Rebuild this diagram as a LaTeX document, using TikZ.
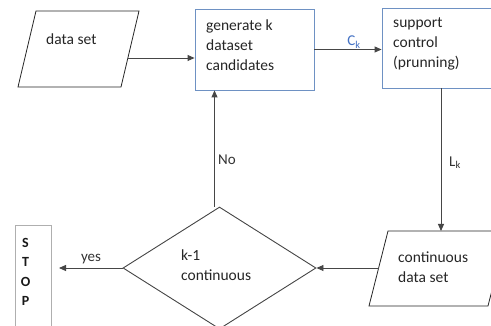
\documentclass[tikz,border=0pt]{standalone}
\usepackage{fontspec}
\setmainfont{Carlito}
\usetikzlibrary{arrows.meta,shapes.geometric}
\definecolor{boxblue}{RGB}{110,145,195}
\definecolor{cblue}{RGB}{68,114,196}
\definecolor{lgray}{RGB}{70,70,70}
\definecolor{stopgray}{RGB}{175,175,175}
\begin{document}
\begin{tikzpicture}[x=1pt,y=-1pt,
  txt/.style={font=\fontsize{15.5}{20}\selectfont, align=left, inner sep=0pt, anchor=west, text=black!85},
  lab/.style={font=\fontsize{15}{18}\selectfont, inner sep=0pt, text=black!80},
  conn/.style={draw=lgray, line width=0.9pt, -{Triangle[length=7pt,width=6pt]}},
  pg/.style={draw=black!85, line width=0.8pt},
  bluebox/.style={draw=boxblue, line width=0.9pt, rectangle, inner sep=0pt}]
\clip (0,0) rectangle (491,326);
\fill[white] (0,0) rectangle (491,326);
% data set
\draw[pg] (36,11) -- (139,11) -- (121,87) -- (18,87) -- cycle;
\coordinate (dsout) at (128,58);
\node[txt] (ds) at (46,39) {data set};
% generate
\node[bluebox, minimum width=119, minimum height=81] (gen) at (254.5,49.5) {};
\node[txt] (gent) at (206,45) {generate k\\dataset\\candidates};
\draw[conn] (dsout) -- (gen.west |- dsout);
% support
\node[bluebox, minimum width=118, minimum height=80] (sup) at (441,48) {};
\node[txt] (supt) at (393,44) {support\\control\\(prunning)};
\draw[conn] (gen.east) -- (gen.east -| sup.west);
\node[lab, text=cblue] (ck) at (354,42) {C\textsubscript{k}};
% continuous data set
\draw[pg] (388,231) -- (507,231) -- (488,306) -- (369,306) -- cycle;
\coordinate (cdsin) at (441,231);
\coordinate (cdsout) at (378.5,268);
\node[txt] (cdst) at (398,267) {continuous\\data set};
\draw[conn] (sup.south) -- (cdsin);
\node[lab] (lk) at (455,163) {L\textsubscript{k}};
% decision
\node[diamond, draw=lgray, line width=0.9pt, minimum width=193, minimum height=122, inner sep=0pt] (dec) at (219.5,268) {};
\node[txt] (dect) at (181,265) {k-1\\continuous};
\draw[conn] (cdsout) -- (dec.east);
\draw[conn] ([xshift=-5]dec.north) -- ([xshift=-5]dec.north |- gen.south);
\node[lab] (no) at (227,160) {No};
% stop
\coordinate (stopin) at (59,268);
\draw[conn] (dec.west) -- (stopin);
\node[lab] (yes) at (91,259) {yes};
\node[draw=stopgray, line width=0.8pt, minimum width=36, minimum height=120, anchor=north west, inner sep=0pt] (stop) at (15,225) {};
\node[font=\fontsize{14}{19.4}\selectfont\bfseries, align=center, inner sep=0pt, text=black!90] (stopt) at (25.5,272) {S\\T\\O\\P};
\end{tikzpicture}
\end{document}
